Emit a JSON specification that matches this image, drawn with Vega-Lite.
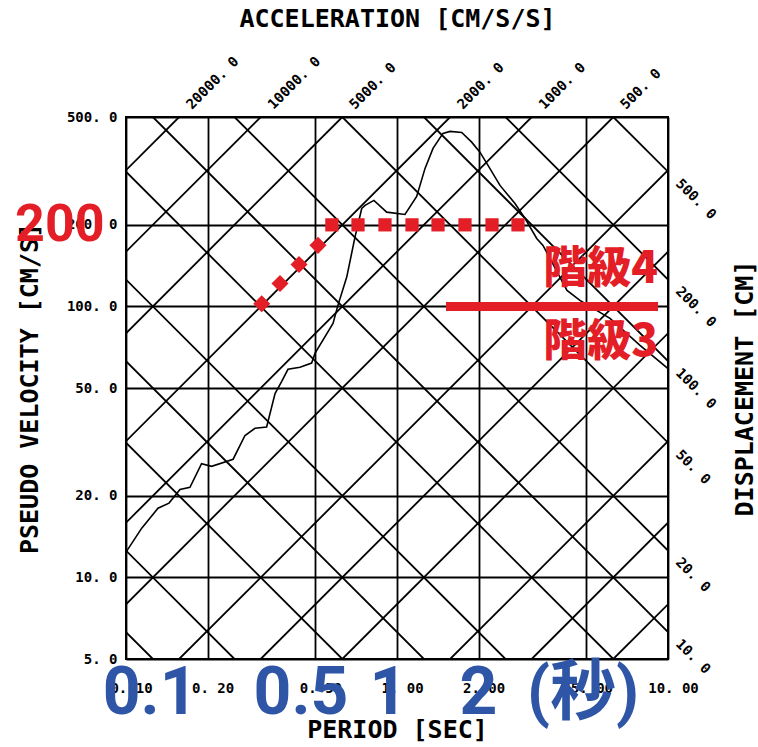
{
  "$schema": "https://vega.github.io/schema/vega-lite/v6.json",
  "width": 542,
  "height": 542,
  "autosize": {"type": "none"},
  "padding": {"left": 126, "top": 117, "right": 90, "bottom": 88},
  "background": "white",
  "config": {
    "view": {"stroke": "black", "strokeWidth": 2},
    "axis": {
      "labelFont": "DejaVu Sans Mono",
      "labelFontWeight": "bold",
      "labelFontSize": 14,
      "labelColor": "black",
      "titleFont": "DejaVu Sans Mono",
      "titleFontWeight": "bold",
      "titleFontSize": 25,
      "titleColor": "black"
    }
  },
  "resolve": {"axis": {"x": "independent", "y": "independent"}},
  "datasets": {
    "diag": [
      {"id": "A5", "T": 6.2832, "Sv": 5}, {"id": "A5", "T": 10, "Sv": 7.958},
      {"id": "A10", "T": 3.1416, "Sv": 5}, {"id": "A10", "T": 10, "Sv": 15.916},
      {"id": "A20", "T": 1.5708, "Sv": 5}, {"id": "A20", "T": 10, "Sv": 31.831},
      {"id": "A50", "T": 0.62832, "Sv": 5}, {"id": "A50", "T": 10, "Sv": 79.577},
      {"id": "A100", "T": 0.31416, "Sv": 5}, {"id": "A100", "T": 10, "Sv": 159.155},
      {"id": "A200", "T": 0.15708, "Sv": 5}, {"id": "A200", "T": 10, "Sv": 318.31},
      {"id": "A500", "T": 0.1, "Sv": 7.958}, {"id": "A500", "T": 6.2832, "Sv": 500},
      {"id": "A1000", "T": 0.1, "Sv": 15.916}, {"id": "A1000", "T": 3.1416, "Sv": 500},
      {"id": "A2000", "T": 0.1, "Sv": 31.831}, {"id": "A2000", "T": 1.5708, "Sv": 500},
      {"id": "A5000", "T": 0.1, "Sv": 79.577}, {"id": "A5000", "T": 0.62832, "Sv": 500},
      {"id": "A10000", "T": 0.1, "Sv": 159.155}, {"id": "A10000", "T": 0.31416, "Sv": 500},
      {"id": "A20000", "T": 0.1, "Sv": 318.31}, {"id": "A20000", "T": 0.15708, "Sv": 500},
      {"id": "D0.1", "T": 0.1, "Sv": 6.2832}, {"id": "D0.1", "T": 0.12566, "Sv": 5},
      {"id": "D0.2", "T": 0.1, "Sv": 12.566}, {"id": "D0.2", "T": 0.25133, "Sv": 5},
      {"id": "D0.5", "T": 0.1, "Sv": 31.416}, {"id": "D0.5", "T": 0.62832, "Sv": 5},
      {"id": "D1", "T": 0.1, "Sv": 62.832}, {"id": "D1", "T": 1.25664, "Sv": 5},
      {"id": "D2", "T": 0.1, "Sv": 125.664}, {"id": "D2", "T": 2.51327, "Sv": 5},
      {"id": "D5", "T": 0.1, "Sv": 314.159}, {"id": "D5", "T": 6.28319, "Sv": 5},
      {"id": "D10", "T": 0.12566, "Sv": 500}, {"id": "D10", "T": 10, "Sv": 6.2832},
      {"id": "D20", "T": 0.25133, "Sv": 500}, {"id": "D20", "T": 10, "Sv": 12.566},
      {"id": "D50", "T": 0.62832, "Sv": 500}, {"id": "D50", "T": 10, "Sv": 31.416},
      {"id": "D100", "T": 1.25664, "Sv": 500}, {"id": "D100", "T": 10, "Sv": 62.832},
      {"id": "D200", "T": 2.51327, "Sv": 500}, {"id": "D200", "T": 10, "Sv": 125.664},
      {"id": "D500", "T": 6.28319, "Sv": 500}, {"id": "D500", "T": 10, "Sv": 314.159}
    ],
    "curve": [
      {"T": 0.1, "Sv": 12.4}, {"T": 0.1143, "Sv": 15.2}, {"T": 0.1312, "Sv": 18.0},
      {"T": 0.1441, "Sv": 18.8}, {"T": 0.1582, "Sv": 21.1}, {"T": 0.1722, "Sv": 21.5},
      {"T": 0.19, "Sv": 26.3}, {"T": 0.207, "Sv": 25.7}, {"T": 0.2485, "Sv": 27.3},
      {"T": 0.2748, "Sv": 33.4}, {"T": 0.2992, "Sv": 35.5}, {"T": 0.3303, "Sv": 35.9},
      {"T": 0.3548, "Sv": 47.7}, {"T": 0.3755, "Sv": 52.9}, {"T": 0.396, "Sv": 58.6},
      {"T": 0.4385, "Sv": 59.6}, {"T": 0.4842, "Sv": 61.8}, {"T": 0.498, "Sv": 67.1},
      {"T": 0.5806, "Sv": 86.5}, {"T": 0.6053, "Sv": 100.9}, {"T": 0.6524, "Sv": 128.3},
      {"T": 0.6998, "Sv": 180.2}, {"T": 0.741, "Sv": 229.9}, {"T": 0.762, "Sv": 235.9},
      {"T": 0.822, "Sv": 246.2}, {"T": 0.916, "Sv": 222.8}, {"T": 1.07, "Sv": 218.5},
      {"T": 1.182, "Sv": 254.6}, {"T": 1.269, "Sv": 323.1}, {"T": 1.358, "Sv": 382.9},
      {"T": 1.478, "Sv": 435}, {"T": 1.569, "Sv": 442.3}, {"T": 1.733, "Sv": 438.6},
      {"T": 1.886, "Sv": 403.8}, {"T": 2.023, "Sv": 371}, {"T": 2.167, "Sv": 331.4},
      {"T": 2.399, "Sv": 279.6}, {"T": 2.725, "Sv": 239.9}, {"T": 2.967, "Sv": 211.2},
      {"T": 3.278, "Sv": 178.2}, {"T": 3.457, "Sv": 168}, {"T": 4.24, "Sv": 114.6},
      {"T": 4.732, "Sv": 105.2}, {"T": 6.109, "Sv": 90.3}, {"T": 7.884, "Sv": 71.8},
      {"T": 10, "Sv": 59.0}
    ],
    "accLabels": [
      {"t": "20000. 0", "T": 0.15708, "Sv": 500}, {"t": "10000. 0", "T": 0.31416, "Sv": 500},
      {"t": "5000. 0", "T": 0.62832, "Sv": 500}, {"t": "2000. 0", "T": 1.5708, "Sv": 500},
      {"t": "1000. 0", "T": 3.1416, "Sv": 500}, {"t": "500. 0", "T": 6.2832, "Sv": 500}
    ],
    "dispLabels": [
      {"t": "500. 0", "T": 10, "Sv": 314.159}, {"t": "200. 0", "T": 10, "Sv": 125.664},
      {"t": "100. 0", "T": 10, "Sv": 62.832}, {"t": "50. 0", "T": 10, "Sv": 31.416},
      {"t": "20. 0", "T": 10, "Sv": 12.566}, {"t": "10. 0", "T": 10, "Sv": 6.2832}
    ],
    "squares": [
      {"T": 0.575, "Sv": 200}, {"T": 0.718, "Sv": 200}, {"T": 0.903, "Sv": 200},
      {"T": 1.136, "Sv": 200}, {"T": 1.417, "Sv": 200}, {"T": 1.782, "Sv": 200},
      {"T": 2.242, "Sv": 200}, {"T": 2.796, "Sv": 200}
    ],
    "diamonds": [
      {"T": 0.3168, "Sv": 102.3}, {"T": 0.37, "Sv": 121.6},
      {"T": 0.435, "Sv": 142.9}, {"T": 0.511, "Sv": 168}
    ],
    "redBar": [{"T": 1.516, "T2": 9.19, "Sv": 100}],
    "grades": [
      {"t": "階級4", "T": 9.19, "Sv": 135.8},
      {"t": "階級3", "T": 9.19, "Sv": 73.3}
    ],
    "red200": [{"t": "200", "T": 0.057, "Sv": 200}],
    "blue": [
      {"t": "0.1", "T": 0.1227, "Sv": 3.7},
      {"t": "0.5", "T": 0.4423, "Sv": 3.7},
      {"t": "1", "T": 0.93, "Sv": 3.7},
      {"t": "2", "T": 1.998, "Sv": 3.7},
      {"t": "(秒)", "T": 4.857, "Sv": 3.7}
    ]
  },
  "layer": [
    {
      "data": {"name": "diag"},
      "mark": {"type": "line", "color": "black", "strokeWidth": 1.8, "clip": true},
      "encoding": {
        "x": {
          "field": "T", "type": "quantitative",
          "scale": {"type": "log", "domain": [0.1, 10], "nice": false},
          "axis": {
            "orient": "bottom",
            "title": "PERIOD [SEC]",
            "values": [0.1, 0.2, 0.5, 1, 2, 5, 10],
            "labelExpr": "replace(format(datum.value, '.2f'), '.', '. ')",
            "ticks": false, "domain": false,
            "grid": true, "gridColor": "black", "gridWidth": 1.8, "gridOpacity": 1,
            "labelPadding": 22, "labelOffset": 5,
            "labelOverlap": false, "labelBound": false, "labelFlush": false,
            "titlePadding": 22
          }
        },
        "y": {
          "field": "Sv", "type": "quantitative",
          "scale": {"type": "log", "domain": [5, 500], "nice": false},
          "axis": {
            "orient": "left",
            "title": "PSEUDO VELOCITY [CM/S]",
            "values": [5, 10, 20, 50, 100, 200, 500],
            "labelExpr": "replace(format(datum.value, '.1f'), '.', '. ')",
            "ticks": false, "domain": false,
            "grid": true, "gridColor": "black", "gridWidth": 1.8, "gridOpacity": 1,
            "labelPadding": 9,
            "labelOverlap": false, "labelBound": false, "labelFlush": false,
            "titlePadding": 24
          }
        },
        "detail": {"field": "id"}
      }
    },
    {
      "data": {"name": "curve"},
      "mark": {"type": "line", "color": "black", "strokeWidth": 1.6, "clip": true},
      "encoding": {
        "x": {"field": "T", "type": "quantitative", "axis": null},
        "y": {"field": "Sv", "type": "quantitative", "axis": null}
      }
    },
    {
      "data": {"name": "accLabels"},
      "mark": {"type": "text", "angle": -45, "align": "left", "baseline": "middle", "dx": 14, "font": "DejaVu Sans Mono", "fontWeight": "bold", "fontSize": 14, "color": "black"},
      "encoding": {
        "x": {
          "field": "T", "type": "quantitative",
          "axis": {"orient": "top", "title": "ACCELERATION [CM/S/S]", "labels": false, "ticks": false, "domain": false, "grid": false, "titlePadding": 86}
        },
        "y": {"field": "Sv", "type": "quantitative", "axis": null},
        "text": {"field": "t"}
      }
    },
    {
      "data": {"name": "dispLabels"},
      "mark": {"type": "text", "angle": 45, "align": "left", "baseline": "middle", "dx": 14, "font": "DejaVu Sans Mono", "fontWeight": "bold", "fontSize": 14, "color": "black"},
      "encoding": {
        "x": {"field": "T", "type": "quantitative", "axis": null},
        "y": {
          "field": "Sv", "type": "quantitative",
          "axis": {"orient": "right", "title": "DISPLACEMENT [CM]", "labels": false, "ticks": false, "domain": false, "grid": false, "titleAngle": -90, "titlePadding": 89}
        },
        "text": {"field": "t"}
      }
    },
    {
      "data": {"name": "diamonds"},
      "mark": {"type": "point", "shape": "diamond", "filled": true, "size": 290, "color": "#e31e26", "opacity": 1},
      "encoding": {
        "x": {"field": "T", "type": "quantitative", "axis": null},
        "y": {"field": "Sv", "type": "quantitative", "axis": null}
      }
    },
    {
      "data": {"name": "squares"},
      "mark": {"type": "point", "shape": "square", "filled": true, "size": 175, "color": "#e31e26", "opacity": 1},
      "encoding": {
        "x": {"field": "T", "type": "quantitative", "axis": null},
        "y": {"field": "Sv", "type": "quantitative", "axis": null}
      }
    },
    {
      "data": {"name": "redBar"},
      "mark": {"type": "rule", "color": "#e31e26", "strokeWidth": 9},
      "encoding": {
        "x": {"field": "T", "type": "quantitative", "axis": null},
        "x2": {"field": "T2"},
        "y": {"field": "Sv", "type": "quantitative", "axis": null}
      }
    },
    {
      "data": {"name": "grades"},
      "mark": {"type": "text", "align": "right", "baseline": "middle", "font": "Noto Sans CJK JP", "fontWeight": 900, "fontSize": 44, "color": "#e31e26"},
      "encoding": {
        "x": {"field": "T", "type": "quantitative", "axis": null},
        "y": {"field": "Sv", "type": "quantitative", "axis": null},
        "text": {"field": "t"}
      }
    },
    {
      "data": {"name": "red200"},
      "mark": {"type": "text", "align": "center", "baseline": "middle", "font": "Roboto, Noto Sans CJK JP", "fontWeight": "bold", "fontSize": 52, "color": "#e31e26"},
      "encoding": {
        "x": {"field": "T", "type": "quantitative", "axis": null},
        "y": {"field": "Sv", "type": "quantitative", "axis": null},
        "text": {"field": "t"}
      }
    },
    {
      "data": {"name": "blue"},
      "mark": {"type": "text", "align": "center", "baseline": "middle", "font": "Roboto, Noto Sans CJK JP", "fontWeight": "bold", "fontSize": 66, "color": "#2f56a6"},
      "encoding": {
        "x": {"field": "T", "type": "quantitative", "axis": null},
        "y": {"field": "Sv", "type": "quantitative", "axis": null},
        "text": {"field": "t"}
      }
    }
  ]
}
